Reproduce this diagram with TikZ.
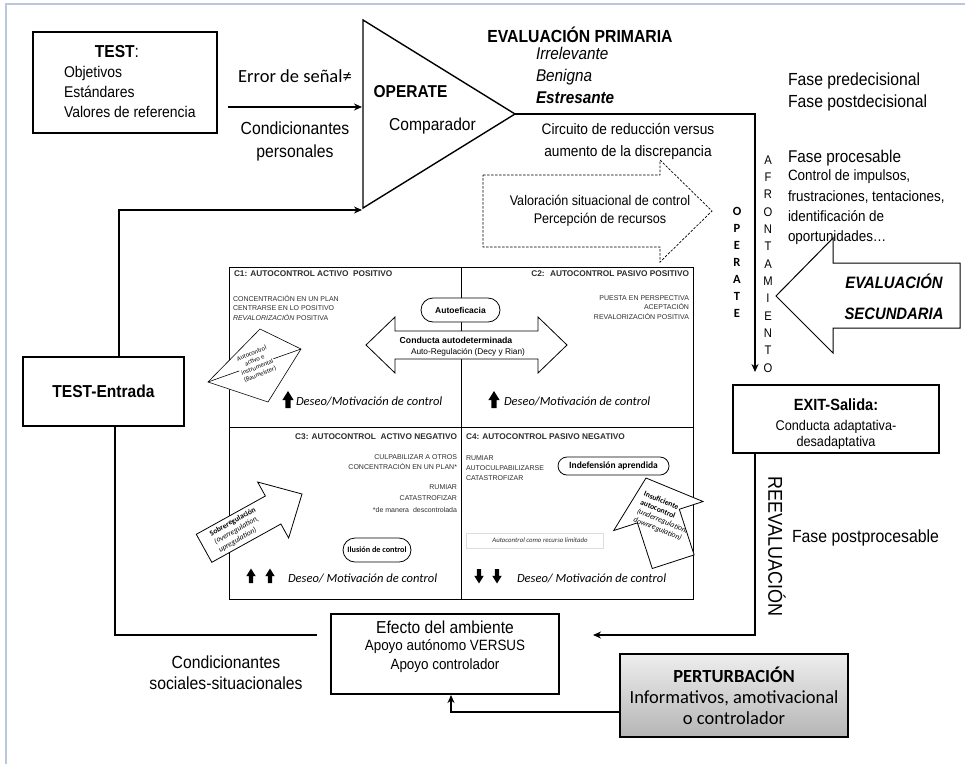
\documentclass[tikz,border=0pt]{standalone}
\usepackage{fontspec}
\setmainfont[FakeStretch=0.9]{Liberation Sans}
\newfontfamily\wide{Liberation Sans}
\newfontfamily\cali{Carlito}
\usetikzlibrary{arrows.meta}
\newcommand\fsz[2]{\fontsize{#1}{#2}\selectfont}
\definecolor{framecol}{HTML}{B9C9DA}
\definecolor{qtext}{HTML}{2E2E2E}
\definecolor{pertTop}{HTML}{EEEEEE}
\definecolor{pertBot}{HTML}{B5B5B5}
\definecolor{limbox}{HTML}{DDDDDD}
\begin{document}
\begin{tikzpicture}[x=1pt, y=-1pt,
  t/.style={inner sep=0pt, outer sep=0pt},
  frame box/.style={draw, line width=1.4pt, inner sep=0pt, outer sep=0pt},
  conn/.style={line width=1.8pt, -{Stealth[length=8pt, width=7pt]}},
  wire/.style={line width=1.8pt},
  qline/.style={line width=0.9pt},
  pill/.style={draw, line width=0.8pt, rounded corners=#1, fill=white, inner sep=0pt, outer sep=0pt},
  blockarrow/.style={draw, line width=0.8pt, fill=white, line join=miter},
  qsmall/.style={t, text=qtext, font=\wide\fsz{7}{9.5}},
  qtitle/.style={t, text=qtext, font=\wide\bfseries\fsz{8.3}{10}},
  deseo/.style={t, font=\cali\itshape\fsz{12.5}{14}},
  uparr/.pic={\fill (-2.6,0) -- (2.6,0) -- (2.6,-8) -- (5.6,-8) -- (0,-17) -- (-5.6,-8) -- (-2.6,-8) -- cycle;},
]
\useasboundingbox (0,0) rectangle (965,764);
\fill[white] (0,0) rectangle (965,764);
\draw[framecol, line width=1.3pt] (6,764) -- (6,4) -- (965,4);

% ---------- TEST box ----------
\node[frame box, minimum width=184pt, minimum height=101pt] (test) at (125,82.5) {};
\node[t, font=\fsz{17.3}{20}] (testT) at (117,52) {\textbf{TEST}:};
\node[t, anchor=west, align=left, font=\fsz{15.5}{20}] (testL) at (64,91.5) {Objetivos\\Estándares\\Valores de referencia};

% ---------- comparator ----------
\coordinate (cmpTop) at (363,20);
\coordinate (cmpBot) at (363,208);
\coordinate (cmpApex) at (515,114);
\draw[line width=1.4pt, line join=miter] (cmpTop) -- (cmpApex) -- (cmpBot) -- cycle;
\node[t, font=\bfseries\fsz{17.2}{20}] (operate) at (410.5,92) {OPERATE};
\node[t, font=\fsz{17.3}{20}] (compar) at (432.5,126) {Comparador};

\coordinate (errS) at (228,107);
\coordinate (errE) at (362,107);
\draw[conn] (errS) -- (errE);
\node[t, font=\cali\fsz{18.5}{22}] (err) at (295,76) {Error de señal≠};
\node[t, align=center, font=\fsz{17.5}{23}] (condP) at (295,141.5) {Condicionantes\\personales};

% ---------- primary appraisal ----------
\node[t, font=\bfseries\fsz{17.5}{20}] (evp) at (580,35) {EVALUACIÓN PRIMARIA};
\node[t, anchor=west, font=\itshape\fsz{17}{20}] (irr) at (536,53) {Irrelevante};
\node[t, anchor=west, font=\itshape\fsz{17}{20}] (ben) at (536,77) {Benigna};
\node[t, anchor=west, font=\bfseries\itshape\fsz{17}{20}] (est) at (536,98) {Estresante};

\coordinate (exitIn) at (755,372);
\draw[conn] (cmpApex) -- (cmpApex -| exitIn) -- (exitIn);

\node[t, align=center, font=\fsz{15.2}{22}] (circ) at (628,141) {Circuito de reducción versus\\aumento de la discrepancia};

% dashed appraisal arrow
\draw[dashed, line width=0.7pt, dash pattern=on 2.5pt off 1.5pt, line join=miter]
  (483,175) -- (660,175) -- (660,160) -- (712,211) -- (660,262) -- (660,247) -- (483,247) -- cycle;
\node[t, align=center, font=\fsz{14}{18}] (valor) at (600,211) {Valoración situacional de control\\Percepción de recursos};

% ---------- right column ----------
\node[t, anchor=west, align=left, font=\fsz{17.5}{22}] (fases) at (788,92) {Fase predecisional\\Fase postdecisional};
\node[t, anchor=west, font=\fsz{17}{20}] (fproc) at (788,158) {Fase procesable};
\node[t, anchor=west, align=left, font=\fsz{14.9}{20.3}] (ctrl) at (788,207.5) {Control de impulsos,\\frustraciones, tentaciones,\\identificación de\\oportunidades…};

\foreach \L [count=\i from 0] in {A,F,R,O,N,T,A,M,I,E,N,T,O}
  \node[t, font=\fsz{12.5}{14}] (afr\i) at (768,{160+17.33*\i}) {\L};
\foreach \L [count=\i from 0] in {O,P,E,R,A,T,E}
  \node[t, font=\cali\bfseries\fsz{12.5}{14}] (opv\i) at (737,{211+17*\i}) {\L};

% secondary appraisal arrow
\draw[blockarrow, line width=1pt] (776,296) -- (833,238) -- (833,263) -- (960,263) -- (960,328) -- (833,328) -- (833,353) -- cycle;
\node[t, align=center, font=\bfseries\itshape\fsz{16.5}{31}] (evs) at (894,296.5) {EVALUACIÓN\\SECUNDARIA};

% ---------- EXIT ----------
\node[frame box, minimum width=206pt, minimum height=68pt] (exit) at (836,419) {};
\node[t, font=\bfseries\fsz{16.2}{19}] (exitT) at (836,405) {EXIT-Salida:};
\node[t, align=center, font=\fsz{14.1}{16}] (exitD) at (836,435) {Conducta adaptativa-\\desadaptativa};

\coordinate (exitOut) at (755,453);
\coordinate (reevIn) at (593,635);
\draw[conn] (exitOut) -- (exitOut |- reevIn) -- (reevIn);
\node[t, rotate=-90, font=\fsz{20}{22}] (reev) at (777,546.5) {REEVALUACIÓN};
\node[t, anchor=west, font=\fsz{17.6}{20}] (fpost) at (792,538) {Fase postprocesable};

% ---------- TEST-Entrada ----------
\node[frame box, minimum width=161pt, minimum height=69pt, font=\bfseries\fsz{17.3}{20}] (entrada) at (103.5,391.5) {TEST-Entrada};
\coordinate (entUp) at (119,357);
\coordinate (cmpIn) at (362,210);
\draw[conn] (entUp) -- (entUp |- cmpIn) -- (cmpIn);
\coordinate (entDn) at (115,426);
\coordinate (socEnd) at (317,635);
\draw[wire] (entDn) -- (entDn |- socEnd) -- (socEnd);
\node[t, align=center, font=\fsz{17.5}{21.5}] (condS) at (226,672.5) {Condicionantes\\sociales-situacionales};

% ---------- environment ----------
\node[frame box, minimum width=228pt, minimum height=80pt] (efecto) at (445,654) {};
\node[t, font=\fsz{17.3}{20}] (efT) at (445,627) {Efecto del ambiente};
\node[t, align=center, font=\fsz{14.9}{19}] (efD) at (445,656.5) {Apoyo autónomo VERSUS\\Apoyo controlador};

\node[frame box, minimum width=228pt, minimum height=83pt, top color=pertTop, bottom color=pertBot] (pert) at (734,695.5) {};
\node[t, font=\cali\bfseries\fsz{18.5}{21}] (pertT) at (734,675) {PERTURBACIÓN};
\node[t, align=center, font=\cali\fsz{18.5}{21}] (pertD) at (734,707.5) {Informativos, amotivacional\\o controlador};
\coordinate (pertOut) at (620,712);
\coordinate (efIn) at (451,695);
\draw[conn] (pertOut) -- (pertOut -| efIn) -- (efIn);

% ---------- self-control quadrants ----------
\draw[qline] (229,267) rectangle (693,599);
\draw[qline] (461,267) -- (461,599);
\draw[qline] (229,427) -- (693,427);

% C1
\node[qtitle, anchor=west] (c1) at (234,274) {C1: AUTOCONTROL ACTIVO~ POSITIVO};
\node[qsmall, anchor=west, align=left] (c1L) at (233,307.5) {CONCENTRACIÓN EN UN PLAN\\CENTRARSE EN LO POSITIVO\\\textit{REVALORIZACIÓN} POSITIVA};
% C2
\node[qtitle, anchor=east] (c2) at (689,274) {C2:~ AUTOCONTROL PASIVO POSITIVO};
\node[qsmall, anchor=east, align=right] (c2L) at (689,307.5) {PUESTA EN PERSPECTIVA\\ACEPTACIÓN\\REVALORIZACIÓN POSITIVA};
% C3
\node[qtitle, anchor=east] (c3) at (457,437) {C3: AUTOCONTROL~ ACTIVO NEGATIVO};
\node[qsmall, anchor=east, align=right, font=\wide\fsz{7}{10}] (c3L) at (457,462) {CULPABILIZAR A OTROS\\CONCENTRACIÓN EN UN PLAN*};
\node[qsmall, anchor=east, align=right, font=\wide\fsz{7}{11.5}] (c3M) at (457,498.5) {RUMIAR\\CATASTROFIZAR\\*de manera~ descontrolada};
% C4
\node[qtitle, anchor=west] (c4) at (466,437) {C4: AUTOCONTROL PASIVO NEGATIVO};
\node[qsmall, anchor=west, align=left, font=\wide\fsz{7}{10}] (c4L) at (466,468) {RUMIAR\\AUTOCULPABILIZARSE\\CATASTROFIZAR};

% self-efficacy and self-determined behaviour
\node[pill=12pt, minimum width=79pt, minimum height=24pt, font=\wide\bfseries\fsz{8.5}{10}] (autoef) at (460.5,310) {Autoeficacia};
\draw[blockarrow] (366,345) -- (395,317) -- (395,331) -- (538,331) -- (538,317) -- (567,345) -- (538,373) -- (538,359) -- (395,359) -- (395,373) -- cycle;
\node[t, font=\wide\bfseries\fsz{8.7}{10}] (condA) at (456,340) {Conducta autodeterminada};
\node[t, font=\wide\fsz{8.3}{10}] (condB) at (468,352) {Auto-Regulación (Decy y Rian)};

% instrumental self-control
\draw[blockarrow, line width=0.6pt] (208,382) -- (260,329) -- (301,349) -- (268,402) -- cycle;
\draw[line width=0.6pt] (208,382) -- (301,349);
\node[t, fill=white, inner sep=1pt, rotate=22, align=center, font=\cali\fsz{6.5}{7.5}] (instr) at (256,364) {Autocontrol\\activo e\\instrumental\\(Baumeister)};

% over-regulation
\begin{scope}[shift={(302,494)}, rotate=29]
  \draw[blockarrow] (0,0) -- (-33,-32) -- (-33,-16) -- (-112,-16) -- (-112,16) -- (-33,16) -- (-33,32) -- cycle;
  \node[t, rotate=29, align=left, font=\cali\fsz{7.6}{9.2}] (sobre) at (-74,0) {\textbf{Sobreregulación}\\\textit{(overregulation,}\\\textit{upregulation)}};
\end{scope}

% under-regulation
\begin{scope}[shift={(646,478)}, rotate=-72]
  \draw[blockarrow] (0,0) -- (40,-47) -- (40,-22) -- (88,-22) -- (88,22) -- (40,22) -- (40,47) -- cycle;
\end{scope}
\node[t, rotate=-22, align=left, font=\cali\fsz{7.6}{9.2}] (insuf) at (664,517) {\textbf{Insuficiente}\\\textbf{autocontrol}\\\textit{(underregulation,}\\\textit{downregulation)}};

\node[pill=12pt, minimum width=68pt, minimum height=24pt, font=\cali\bfseries\fsz{8.2}{10}] (ilus) at (377,550) {Ilusión de control};
\node[pill=9pt, minimum width=111pt, minimum height=18pt, font=\cali\bfseries\fsz{9.5}{11}] (indef) at (613.5,466) {Indefensión aprendida};
\node[draw=limbox, line width=0.6pt, minimum width=137pt, minimum height=15pt, inner sep=0pt] (limit) at (534.5,540.5) {};
\node[t, text=qtext, font=\cali\itshape\fsz{6.8}{8}] (limitT) at (540,540.5) {Autocontrol como recurso limitado};

% desire / motivation rows
\pic (a1) at (288,408) {uparr};
\node[deseo, anchor=west] (d1) at (296,401) {Deseo/Motivación de control};
\pic (a2) at (494,408) {uparr};
\node[deseo, anchor=west] (d2) at (504,401) {Deseo/Motivación de control};
\pic[scale=0.85] (a3) at (251,583) {uparr};
\pic[scale=0.85] (a4) at (270,583) {uparr};
\node[deseo, anchor=west] (d3) at (288,578) {Deseo/ Motivación de control};
\pic[scale=0.85, rotate=180] (a5) at (479,569) {uparr};
\pic[scale=0.85, rotate=180] (a6) at (497,569) {uparr};
\node[deseo, anchor=west] (d4) at (517,578) {Deseo/ Motivación de control};
\end{tikzpicture}
\end{document}
